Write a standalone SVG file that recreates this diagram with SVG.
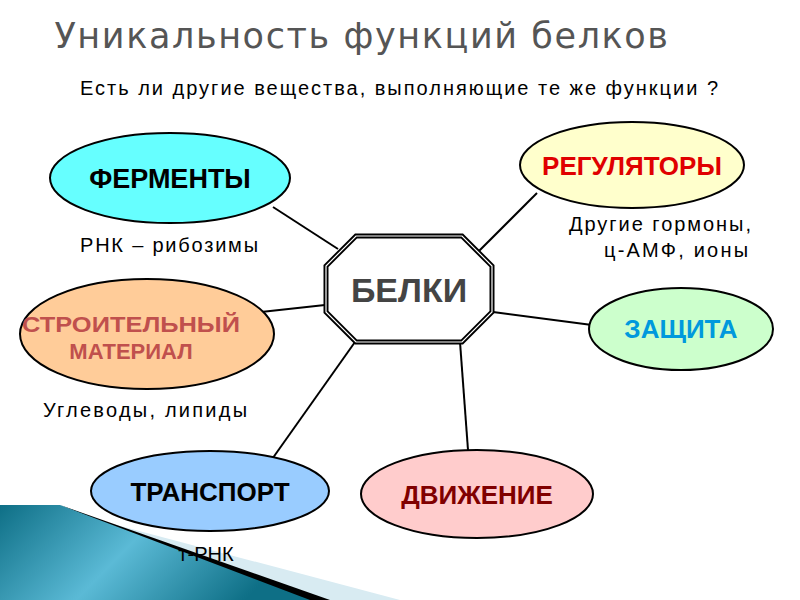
<svg xmlns="http://www.w3.org/2000/svg" width="800" height="600" viewBox="0 0 800 600">
<defs>
<linearGradient id="teal" x1="0" y1="0" x2="1" y2="0.3">
<stop offset="0" stop-color="#0e6f86"/><stop offset="0.5" stop-color="#5bbad6"/><stop offset="1" stop-color="#0e6f86"/>
</linearGradient>
</defs>
<style>
.t{font-family:"Liberation Sans",Arial,sans-serif;font-weight:bold;text-anchor:middle}
.n{font-family:"Liberation Sans",Arial,sans-serif;font-size:20px;text-anchor:middle;fill:#000}
.e{stroke:#000;stroke-width:2}
.c line{stroke:#000;stroke-width:2}
</style>
<rect width="800" height="600" fill="#fff"/>
<polygon points="60,510 400,600 250,600" fill="#d8ebf2"/>
<polygon points="60,505 330,600 290,600" fill="#000"/>
<polygon points="0,505 60,505 310,600 0,600" fill="url(#teal)"/>
<text x="362" y="48" font-family="DejaVu Sans,sans-serif" font-size="35" fill="#555" text-anchor="middle" letter-spacing="1.6">Уникальность функций белков</text>
<text x="399" y="95" class="n" textLength="638" lengthAdjust="spacing">Есть ли другие  вещества, выполняющие  те же функции  ?</text>
<g class="c">
<line x1="273" y1="207" x2="338" y2="249"/>
<line x1="537" y1="193" x2="478" y2="252"/>
<line x1="261" y1="312" x2="325" y2="305"/>
<line x1="493" y1="312" x2="592" y2="325"/>
<line x1="270" y1="462" x2="355" y2="342"/>
<line x1="460" y1="342" x2="468" y2="450"/>
</g>
<g id="belki">
<polygon points="356,236 462,236 492,266 492,312 462,342 356,342 326,312 326,266" fill="#fff" stroke="#000" stroke-width="5"/>
<polygon points="356,236 462,236 492,266 492,312 462,342 356,342 326,312 326,266" fill="none" stroke="#fff" stroke-width="1.2"/>
<text x="409" y="302" class="t" font-size="34" fill="#444">БЕЛКИ</text>
</g>
<g id="fermenty"><ellipse cx="170" cy="178" rx="120" ry="45" fill="#66ffff" class="e"/>
<text x="170" y="188" class="t" font-size="27" fill="#000">ФЕРМЕНТЫ</text>
<text x="169" y="252" class="n" textLength="178" lengthAdjust="spacing">РНК – рибозимы</text></g>
<g id="regul"><ellipse cx="632" cy="165" rx="112" ry="43" fill="#ffffcc" class="e"/>
<text x="632" y="175" class="t" font-size="26" fill="#e00000">РЕГУЛЯТОРЫ</text>
<text x="660" y="231" class="n" textLength="182" lengthAdjust="spacing">Другие  гормоны,</text>
<text x="676" y="257" class="n" textLength="144" lengthAdjust="spacing">ц-АМФ,  ионы</text></g>
<g id="stroit"><ellipse cx="147" cy="334" rx="127" ry="55" fill="#ffcc99" class="e"/>
<text x="131" y="332" class="t" font-size="22" fill="#c0504d" textLength="218" lengthAdjust="spacingAndGlyphs">СТРОИТЕЛЬНЫЙ</text>
<text x="131" y="359" class="t" font-size="22" fill="#c0504d">МАТЕРИАЛ</text>
<text x="145" y="417" class="n" textLength="204" lengthAdjust="spacing">Углеводы, липиды</text></g>
<g id="zasch"><ellipse cx="681" cy="329" rx="92" ry="41" fill="#ccffcc" class="e"/>
<text x="681" y="338" class="t" font-size="26" fill="#0099dd">ЗАЩИТА</text></g>
<g id="transp"><ellipse cx="210" cy="491" rx="119" ry="40" fill="#99ccff" class="e"/>
<text x="210" y="501" class="t" font-size="26" fill="#000">ТРАНСПОРТ</text>
<text x="206" y="561" class="n" font-size="20">т-РНК</text></g>
<g id="dvizh"><ellipse cx="477" cy="494" rx="116" ry="44" fill="#ffcccc" class="e"/>
<text x="477" y="504" class="t" font-size="26" fill="#800000">ДВИЖЕНИЕ</text></g>
</svg>
